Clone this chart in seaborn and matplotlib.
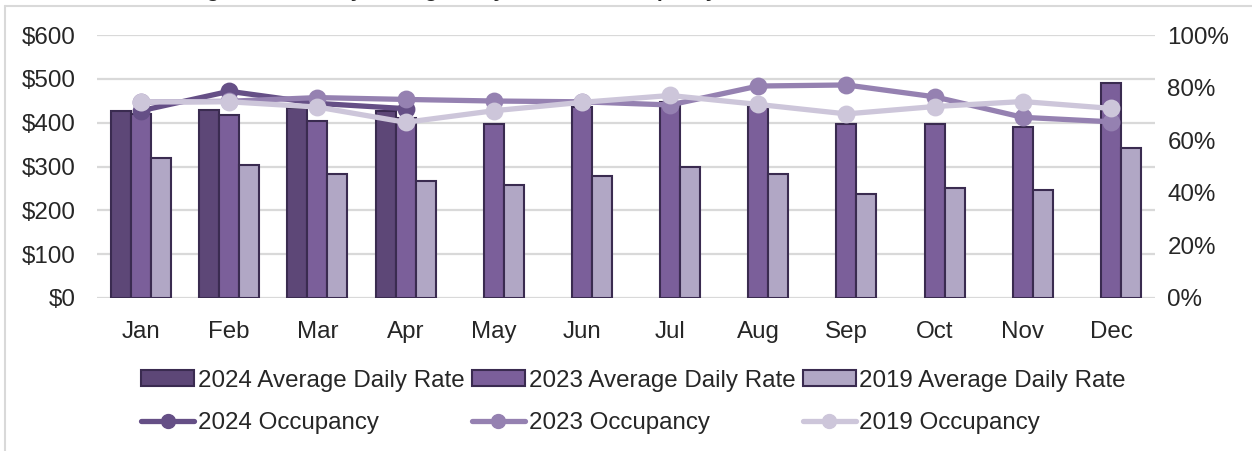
"""
Monthly hotel average daily rate and occupancy chart
"""

# ==============================================================================
# ========== Import packages ==========
import numpy as np
import pandas as pd
import matplotlib
matplotlib.use("Agg")
import matplotlib.pyplot as plt
from matplotlib.lines import Line2D
from matplotlib.patches import Patch
import seaborn as sns

# ==============================================================================
# ========== Data ==========
months = ["Jan", "Feb", "Mar", "Apr", "May", "Jun",
          "Jul", "Aug", "Sep", "Oct", "Nov", "Dec"]

adr_2024 = [427, 430, 433, 427] + [np.nan] * 8
adr_2023 = [420, 418, 404, 410, 398, 435, 447, 438, 398, 396, 390, 490]
adr_2019 = [319, 303, 284, 266, 257, 279, 300, 283, 237, 252, 247, 342]

occ_2024 = [71.2, 78.6, 74.0, 72.0] + [np.nan] * 8
occ_2023 = [74.5, 74.8, 76.2, 75.5, 74.9, 74.6, 73.4, 80.6, 81.0, 76.5, 68.7, 67.0]
occ_2019 = [74.6, 74.6, 72.6, 66.8, 71.2, 74.4, 77.0, 73.6, 70.0, 72.8, 74.7, 72.1]

adr_labels = ["2024 Average Daily Rate", "2023 Average Daily Rate", "2019 Average Daily Rate"]
occ_labels = ["2024 Occupancy", "2023 Occupancy", "2019 Occupancy"]

y_left_ticks = [0, 100, 200, 300, 400, 500, 600]
y_right_ticks = [0, 20, 40, 60, 80, 100]

title = "Figure 4: Monthly Average Daily Rate and Occupancy Rates, Oahu, 2019 vs. 2023 vs. 2024"

# ==============================================================================
# ========== Build long tables ==========
adr_df = pd.DataFrame({
    "Month": months * 3,
    "Series": np.repeat(adr_labels, 12),
    "ADR": adr_2024 + adr_2023 + adr_2019,
})
occ_df = pd.DataFrame({
    "Month": months * 3,
    "Series": np.repeat(occ_labels, 12),
    "Occ": occ_2024 + occ_2023 + occ_2019,
})

bar_colors = ["#5d4777", "#7b5f9a", "#b1a7c5"]
line_colors = ["#654f86", "#9581b1", "#cdc6da"]
edge_col = "#3a2b50"
grid_col = "#d9d9d9"

# ==============================================================================
# ========== Plot ==========
sns.set_style("white")
plt.rcParams["font.family"] = ["Liberation Sans", "DejaVu Sans"]
fs = 17.4

fig = plt.figure(figsize=(12.52, 4.51), dpi=100)
ax = fig.add_axes([97 / 1252, 1 - 298 / 451, (1155 - 97) / 1252, (298 - 35) / 451])

sns.barplot(data=adr_df, x="Month", y="ADR", hue="Series", order=months,
            hue_order=adr_labels, palette=bar_colors, width=0.68, gap=0,
            edgecolor=edge_col, linewidth=1.5, errorbar=None, ax=ax,
            legend=False, saturation=1)

ax.set_ylim(0, 600)
ax.set_yticks(y_left_ticks)
ax.set_yticklabels([f"${v}" for v in y_left_ticks])
ax.set_xlim(-0.5, 11.5)
ax.set_xlabel("")
ax.set_ylabel("")
ax.yaxis.grid(True, color=grid_col, linewidth=1.6)
ax.set_axisbelow(True)
for s in ax.spines.values():
    s.set_visible(False)
ax.tick_params(axis="y", length=0, pad=15.5, labelsize=fs)
ax.tick_params(axis="x", length=0, pad=16.5, labelsize=fs)

# ========== Occupancy on the right axis ==========
ax2 = ax.twinx()
sns.pointplot(data=occ_df, x="Month", y="Occ", hue="Series", order=months,
              hue_order=occ_labels, palette=line_colors, errorbar=None,
              markers="o", markersize=10, linewidth=3.8, ax=ax2, legend=False)
ax2.set_ylim(0, 100)
ax2.set_yticks(y_right_ticks)
ax2.set_yticklabels([f"{v}%" for v in y_right_ticks])
ax2.set_ylabel("")
ax2.set_xlim(-0.5, 11.5)
ax2.grid(False)
for s in ax2.spines.values():
    s.set_visible(False)
ax2.tick_params(axis="y", length=0, pad=9, labelsize=fs)

# ========== Legend ==========
handles = []
for i in range(3):
    handles.append(Patch(facecolor=bar_colors[i], edgecolor=edge_col, linewidth=1.5,
                         label=adr_labels[i]))
    handles.append(Line2D([], [], color=line_colors[i], linewidth=3.8, marker="o",
                          markersize=10, label=occ_labels[i]))
fig.legend(handles=handles, ncol=3, loc="center", bbox_to_anchor=(0.506, 0.109),
           frameon=False, fontsize=fs, handlelength=2.2, handleheight=0.6,
           handletextpad=0.15, columnspacing=0.3, labelspacing=0.85)

# ========== Title (cut off at the top, as in the source) and chart frame ==========
fig.text(0.505, 1 + 3 / 451, title, ha="center", va="baseline",
         fontsize=15, fontweight="bold")
fig.add_artist(Line2D([5 / 1252, 1], [1 - 6 / 451, 1 - 6 / 451],
                      color="#d9d9d9", linewidth=1.5, transform=fig.transFigure))
fig.add_artist(Line2D([5 / 1252, 5 / 1252], [0, 1 - 6 / 451],
                      color="#d9d9d9", linewidth=1.5, transform=fig.transFigure))

fig.savefig("out.png", dpi=100)
